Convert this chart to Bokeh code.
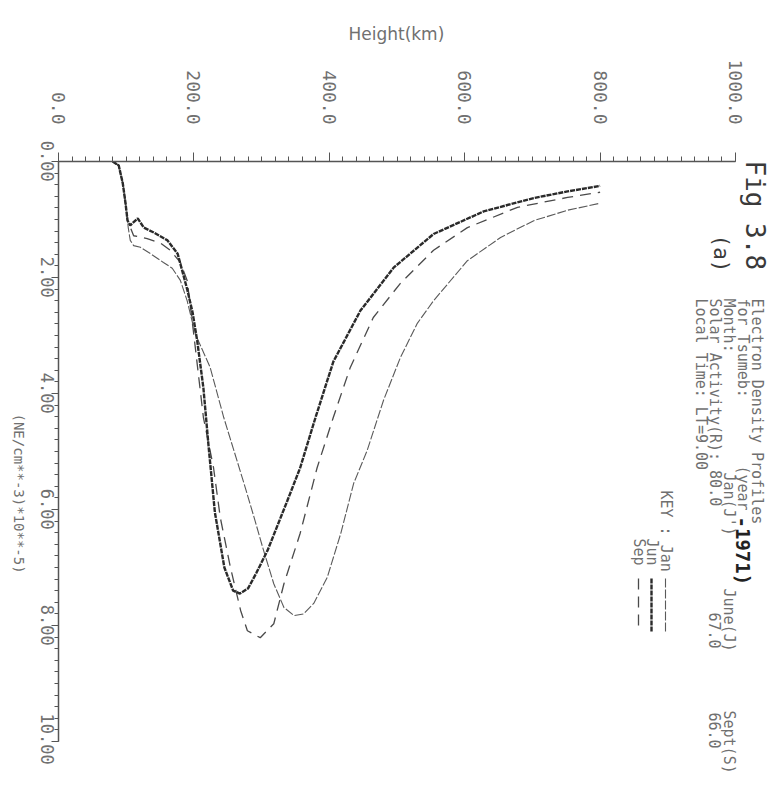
import math
from bokeh.plotting import figure
from bokeh.layouts import row
from bokeh.models import (Range1d, FixedTicker, Label, PrintfTickFormatter, LinearAxis,
                          CustomLabelingPolicy)
from bokeh.embed import file_html
from bokeh.resources import INLINE

# ---------------- data (height km, electron density NE/cm^-3 * 1e-5) -------------
jun_h = [80, 89, 95, 99, 102, 106, 117, 126, 140, 161, 176, 182, 190, 198, 205, 214, 222, 231,
         245, 258, 268, 280, 292, 309, 338, 357, 380, 406, 446, 495, 554, 628, 702, 750, 800]
jun_d = [0.0, 0.07, 0.38, 0.72, 1.02, 1.10, 0.98, 1.14, 1.22, 1.36, 1.59, 1.85, 2.20, 2.60, 3.10, 3.90, 4.95, 6.05,
         7.00, 7.40, 7.45, 7.36, 7.10, 6.70, 5.85, 5.28, 4.40, 3.45, 2.57, 1.83, 1.25, 0.86, 0.63, 0.52, 0.42]

jan_h = [80, 89, 95, 99, 102, 103, 106, 111, 121, 136, 155, 168, 180, 190, 199, 205, 224, 244, 259, 274,
         289, 303, 318, 333, 348, 362, 377, 397, 417, 436, 456, 480, 505, 530, 554, 604, 653, 702, 752, 800]
jan_d = [0.0, 0.07, 0.38, 0.72, 1.02, 1.14, 1.36, 1.45, 1.48, 1.59, 1.74, 1.84, 2.05, 2.40, 2.83, 3.05, 3.55, 4.41, 4.98, 5.55,
         6.14, 6.71, 7.28, 7.69, 7.83, 7.80, 7.62, 7.17, 6.41, 5.55, 4.98, 4.12, 3.38, 2.79, 2.40, 1.71, 1.31, 1.02, 0.84, 0.72]

sep_h = [80, 89, 95, 99, 102, 111, 131, 151, 165, 180, 190, 199, 214, 229, 239, 254, 269, 279, 298, 318,
         333, 357, 382, 406, 431, 465, 505, 554, 604, 678, 752, 800]
sep_d = [0.0, 0.07, 0.38, 0.72, 1.02, 1.28, 1.33, 1.41, 1.53, 1.74, 2.05, 2.90, 4.41, 5.28, 6.14, 7.00, 7.74, 8.09, 8.21, 7.97,
         7.28, 6.41, 5.28, 4.41, 3.55, 2.69, 2.10, 1.53, 1.14, 0.79, 0.62, 0.53]

height_ticks = [0, 200, 400, 600, 800, 1000]
density_ticks = [0, 2, 4, 6, 8, 10]

months = ["Jan(J')", "June(J)", "Sept(S)"]
solar = ["80.0", "67.0", "66.0"]
key_names = ["Jan", "Jun", "Sep"]

# ---------------- layout (pixels) ----------------
W, H = 777, 803
TW = 28                      # narrow strip holding the rotated y title
LEFT, TOP = 58, 161          # frame origin in page pixels
PX_PER_KM = 0.677
PX_PER_UNIT = 58.0
AX = "#555555"
TXT = "#707070"
MONO = "DejaVu Sans Mono"
ANG = -math.pi / 2

def hx(X):
    return (X - LEFT) / PX_PER_KM

def dy(Y):
    return (Y - TOP) / PX_PER_UNIT

# ---- title strip on the far left (its frame is aligned with the main frame: rows TOP..H) ----
t = figure(width=TW, height=H, x_range=Range1d(0, TW), y_range=Range1d(H, TOP),
           output_backend="svg", toolbar_location=None,
           min_border=0, min_border_left=0, min_border_right=0,
           min_border_top=TOP, min_border_bottom=0)
t.axis.visible = False
t.grid.visible = False
t.outline_line_color = None
t.border_fill_color = "white"
t.add_layout(Label(x=18, y=413, text="(NE/cm**-3)*10**-5)", angle=ANG,
                   text_align="left", text_baseline="middle",
                   text_font=MONO, text_font_size="14px", text_color=TXT))

# ---- main plot ----
p = figure(width=W - TW, height=H,
           x_range=Range1d(0, (W - LEFT) / PX_PER_KM),
           y_range=Range1d((H - TOP) / PX_PER_UNIT, 0),
           x_axis_location="above", y_axis_location=None,
           output_backend="svg", toolbar_location=None,
           min_border_left=LEFT - TW, min_border_top=TOP,
           min_border_right=0, min_border_bottom=0)
p.grid.visible = False
p.outline_line_color = None
p.background_fill_color = "white"
p.border_fill_color = "white"

xa = p.xaxis[0]
xa.bounds = (0, 1000)
xa.ticker = FixedTicker(ticks=height_ticks, minor_ticks=list(range(0, 1001, 20)))
xa.formatter = PrintfTickFormatter(format="%.1f")
xa.major_label_orientation = ANG
xa.major_label_standoff = 28
xa.major_label_text_font = MONO
xa.major_label_text_font_size = "18px"
xa.major_label_text_color = TXT
xa.major_tick_out = 9
xa.major_tick_in = 0
xa.minor_tick_out = 5
xa.minor_tick_in = 0
xa.axis_line_color = AX
xa.axis_line_width = 1.5
xa.major_tick_line_color = AX
xa.minor_tick_line_color = AX
xa.axis_label = "Height(km)" + "\u00a0" * 8
xa.axis_label_text_font = "DejaVu Sans"
xa.axis_label_text_font_style = "normal"
xa.axis_label_text_font_size = "17px"
xa.axis_label_text_color = TXT
xa.axis_label_standoff = 12

# inner left axis: line and ticks only (labels suppressed by the labeling policy)
ya = LinearAxis(bounds=(0, 10),
                ticker=FixedTicker(ticks=density_ticks, minor_ticks=[i / 5 for i in range(0, 51)]),
                major_label_policy=CustomLabelingPolicy(code="return new Set()"),
                major_label_standoff=0, major_label_text_font_size="1px",
                major_tick_out=7, major_tick_in=0, minor_tick_out=4, minor_tick_in=0,
                axis_line_color=AX, axis_line_width=1.5,
                major_tick_line_color=AX, minor_tick_line_color=AX)
p.add_layout(ya, "left")

# outer left axis: only the rotated tick labels, centred on their ticks
label_shift = [0.35, 0.35, 0.35, 0.35, 0.35, 0.40]   # half the label length, in axis units
lab_pos = [v + s for v, s in zip(density_ticks, label_shift)]
yb = LinearAxis(bounds=(0, 10.5),
                ticker=FixedTicker(ticks=lab_pos, minor_ticks=[]),
                major_label_overrides={pos: "%.2f" % v for pos, v in zip(lab_pos, density_ticks)},
                major_label_orientation=ANG, major_label_standoff=0,
                major_label_text_font=MONO, major_label_text_font_size="17px",
                major_label_text_color=TXT,
                axis_line_color=None, major_tick_line_color=None, minor_tick_line_color=None,
                major_tick_out=0, major_tick_in=0, minor_tick_out=0, minor_tick_in=0)
p.add_layout(yb, "left")

# ---------------- curves ----------------
STY = {
    "Jan": dict(line_color="#5a5a5a", line_width=1.1, line_dash="9 2"),
    "Jun": dict(line_color="#2a2a2a", line_width=2.4, line_dash="5 1"),
    "Sep": dict(line_color="#4a4a4a", line_width=1.3, line_dash="11 7"),
}
p.line(jan_h, jan_d, **STY["Jan"])
p.line(sep_h, sep_d, **STY["Sep"])
p.line(jun_h, jun_d, **STY["Jun"])

# ---------------- text block (rotated like the scanned page) ----------------
def vlabel(X, Y, text, size="15px", color=TXT, style="normal", font=MONO):
    p.add_layout(Label(x=hx(X), y=dy(Y), text=text, angle=ANG,
                       text_align="left", text_baseline="middle",
                       text_font=font, text_font_size=size,
                       text_color=color, text_font_style=style))

vlabel(754, 160, "Fig 3.8", size="26px", color="#3a3a3a")
vlabel(720, 234, "(a)", size="21px", color="#3a3a3a")
vlabel(756, 298, "Electron Density Profiles")
vlabel(742, 298, "for Tsumeb:")
vlabel(742, 465, "(year")
vlabel(742, 516, "-1971)", size="19px", color="#222222", style="bold")
vlabel(728, 298, "Month:")
vlabel(714, 298, "Solar Activity(R): " + solar[0])
vlabel(700, 298, "Local Time: LT=9.00")

for Y, m in zip([472, 588, 710], months):
    vlabel(728, Y, m)
for Y, s in zip([612, 712], solar[1:]):
    vlabel(714, Y, s)

key_X = [665, 651, 638]
vlabel(key_X[0], 490, "KEY : " + key_names[0])
for X, name in zip(key_X[1:], key_names[1:]):
    vlabel(X, 538, name)
for X, name in zip(key_X, key_names):
    p.line([hx(X), hx(X)], [dy(578), dy(632)], **STY[name])

layout = row(t, p, spacing=0)
open("out.html", "w").write(file_html(layout, INLINE))
